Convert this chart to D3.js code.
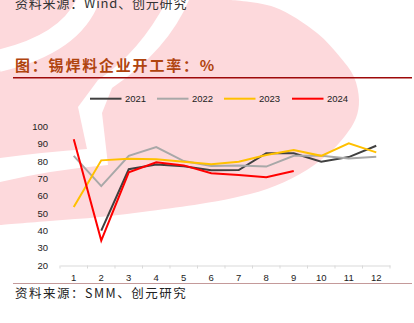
<!DOCTYPE html>
<html>
<head>
<meta charset="utf-8">
<script src="https://cdn.jsdelivr.net/npm/d3@7"></script>
<style>
html,body{margin:0;padding:0;background:#fff;}
svg{display:block;}
</style>
</head>
<body>
<svg id="chart" width="414" height="323"></svg>
<script>
const months = ["1","2","3","4","5","6","7","8","9","10","11","12"];
const yTicks = [20,30,40,50,60,70,80,90,100];
const s2021 = [null, 40, 75.3, 78, 77, 74.7, 74.8, 84.5, 84.5, 79.6, 82.3, 88.8];
const s2022 = [83, 65.6, 83, 88, 80, 77.2, 77.4, 76.8, 83, 83, 81.5, 82.5];
const s2023 = [53.6, 80.4, 81.3, 81.1, 79.6, 78.1, 79.6, 83.5, 86.4, 83, 90.2, 85];
const s2024 = [92.5, 34.2, 73.5, 79.3, 77.5, 73, 72, 70.7, 74.3];
const seriesNames = ["2021","2022","2023","2024"];
const seriesColors = ["#404040","#A8A8A8","#FFC000","#FF0000"];
const seriesData = [s2021, s2022, s2023, s2024];

const svg = d3.select("#chart");

// watermark background
const pink = "#FDD9DC";
const wm = svg.append("g");
const outline = [[230,0],[274,7],[317,33],[340,57],[354,77],[359,100],[356,118],[345,136],[327,155],[300,174],[267,189],[233,198],[200,204],[150,211],[100,217],[50,221],[0,225]];
const curve = d3.line().curve(d3.curveCatmullRom);
wm.append("path")
  .attr("d", curve(outline) + "L0,0Z")
  .attr("fill", pink);
wm.append("path")
  .attr("d", "M89,-2 Q72,44 -2,61")
  .attr("fill","none").attr("stroke","#fff").attr("stroke-width",22);
wm.append("path")
  .attr("d", "M167,0 L189,0 Q168,50 112,88 L102,113 L108,165 Q50,170 0,182 L0,158 Q45,152 87,149 L78,107 L98,80 Q140,52 167,0Z")
  .attr("fill","#fff");

// top source text (cut off at top edge, as in the reference)
svg.append("text").attr("x",15).attr("y",8)
  .attr("font-family","'Noto Sans CJK SC', sans-serif").attr("font-size",13)
  .attr("letter-spacing",0.8).attr("fill","#333")
  .text("资料来源：Wind、创元研究");

// title
svg.append("text").attr("x",15).attr("y",71)
  .attr("font-family","'Noto Sans CJK SC', sans-serif").attr("font-size",15)
  .attr("font-weight","bold").attr("letter-spacing",1.8).attr("fill","#B0440E")
  .text("图：锡焊料企业开工率：%");
svg.append("line").attr("x1",13).attr("x2",412).attr("y1",77.8).attr("y2",77.8)
  .attr("stroke","#9E0A0A").attr("stroke-width",1.5);

// scales
const x = d3.scaleBand().domain(months).range([60,390]);
const y = d3.scaleLinear().domain([20,100]).range([265.3,126.3]);

// x axis
const xAxis = d3.axisBottom(x).tickSize(0).tickSizeOuter(0);
const gx = svg.append("g").attr("transform","translate(0,265.5)").call(xAxis);
gx.select(".domain").attr("stroke","#D9D9D9").attr("stroke-width",1);
gx.selectAll(".tick text").attr("dy",0).attr("y",15)
  .attr("font-family","'Liberation Sans', Arial, sans-serif").attr("font-size",9.5).attr("fill","#222");
svg.append("g").selectAll("line").data(months.concat(["end"])).join("line")
  .attr("x1",(d,i)=>60 + i*x.step()).attr("x2",(d,i)=>60 + i*x.step())
  .attr("y1",265.5).attr("y2",268.5).attr("stroke","#D9D9D9");

// y axis
const yAxis = d3.axisLeft(y).tickValues(yTicks).tickSize(0);
const gy = svg.append("g").attr("transform","translate(48,0)").call(yAxis);
gy.select(".domain").remove();
gy.selectAll(".tick text").attr("x",0)
  .attr("font-family","'Liberation Sans', Arial, sans-serif").attr("font-size",9.5).attr("fill","#222");

// lines
const line = d3.line()
  .defined(d => d != null)
  .x((d,i)=>x(months[i]) + x.bandwidth()/2)
  .y(d=>y(d));
seriesData.forEach((data,k)=>{
  svg.append("path").datum(data)
    .attr("d", line)
    .attr("fill","none").attr("stroke",seriesColors[k])
    .attr("stroke-width",2).attr("stroke-linejoin","miter");
});

// legend
const legX = [90,157,224,292];
const lg = svg.append("g");
seriesNames.forEach((n,k)=>{
  lg.append("line").attr("x1",legX[k]).attr("x2",legX[k]+31.5)
    .attr("y1",98.7).attr("y2",98.7).attr("stroke",seriesColors[k]).attr("stroke-width",2);
  lg.append("text").attr("x",legX[k]+35).attr("y",98.7).attr("dy","0.35em")
    .attr("font-family","'Liberation Sans', Arial, sans-serif").attr("font-size",9.5).attr("fill","#222")
    .text(n);
});

// bottom line & source
svg.append("line").attr("x1",13).attr("x2",412).attr("y1",283.5).attr("y2",283.5)
  .attr("stroke","#C49A9A").attr("stroke-width",1);
svg.append("text").attr("x",15).attr("y",298)
  .attr("font-family","'Noto Sans CJK SC', sans-serif").attr("font-size",12.5)
  .attr("letter-spacing",1.5).attr("fill","#222")
  .text("资料来源：SMM、创元研究");
</script>
</body>
</html>
